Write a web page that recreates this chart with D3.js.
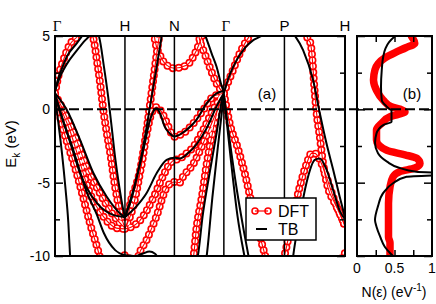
<!DOCTYPE html>
<html>
<head>
<meta charset="utf-8">
<title>Band structure and DOS</title>
<script src="https://d3js.org/d3.v7.min.js"></script>
<style>
  body { margin: 0; background: #fff; }
  text { font-family: "Liberation Sans", Arial, sans-serif; fill: #000; }
</style>
</head>
<body>
<script>
// high symmetry points of the bcc path (path length units)
let symLabels = ['Γ', 'H', 'N', 'Γ', 'P', 'H'];
let symK = [0, 1, 1.707, 2.414, 3.280, 4.146];

let energyTicks = [5, 0, -5, -10];
let energyMinor = [2.5, -2.5, -7.5];
let dosTicks = [0, 0.5, 1];
let dosMinor = [0.25, 0.5, 0.75];

// DFT bands as [k, E(eV)]
let dftBands = [
  [[0,1.1],[0.05,2.3],[0.12,3.35],[0.21,4.4],[0.33,5.0],[0.43,5.6],[0.5,5.3],[0.55,4.8],[0.6,3.3],[0.65,1.6],[0.69,0.0],[0.74,-1.6],[0.79,-3.0],[0.86,-5.3],[0.94,-7.2],[1.0,-8.1]],
  [[0,1.0],[0.024,0.5],[0.12,-1.4],[0.21,-2.8],[0.31,-4.36],[0.4,-5.96],[0.5,-7.77],[0.62,-9.7],[0.66,-10.4]],
  [[0,1.0],[0.07,0.18],[0.21,-1.41],[0.36,-3.68],[0.5,-5.73],[0.69,-7.3],[0.88,-8.1],[1.0,-8.15]],
  [[0,1.0],[0.12,-0.05],[0.31,-2.1],[0.45,-3.9],[0.64,-5.7],[0.83,-7.2],[1.0,-8.1]],
  [[1.0,-8.1],[1.03,-7.8],[1.07,-6.6],[1.17,-5.0],[1.24,-3.7],[1.31,-1.4],[1.36,0.4],[1.41,2.2],[1.46,4.0],[1.49,4.95],[1.52,5.8]],
  [[1.0,-8.1],[1.05,-7.6],[1.12,-6.6],[1.19,-5.0],[1.26,-3.0],[1.33,-1.2],[1.38,-0.25],[1.45,0.15],[1.52,-0.16],[1.6,-0.95],[1.66,-1.6],[1.707,-1.87],[1.76,-1.8],[1.83,-1.64],[1.98,-0.95],[2.12,-0.05],[2.26,0.86],[2.414,1.1]],
  [[1.0,-8.15],[1.1,-8.0],[1.21,-7.6],[1.4,-6.1],[1.54,-4.6],[1.63,-3.8],[1.707,-3.45],[1.78,-3.4],[1.83,-3.2],[1.98,-2.55],[2.12,-1.4],[2.26,-0.05],[2.414,1.1]],
  [[0.95,-10.3],[1.0,-9.95],[1.08,-10.3]],
  [[1.17,-10.4],[1.19,-10.05],[1.31,-8.9],[1.45,-7.3],[1.6,-5.3],[1.707,-4.95],[1.78,-5.0],[1.83,-4.6],[1.98,-3.7],[2.12,-2.3],[2.26,-0.73],[2.414,1.0]],
  [[1.41,5.6],[1.43,4.7],[1.5,3.7],[1.6,3.0],[1.707,2.8],[1.88,3.0],[2.02,4.0],[2.1,4.95],[2.14,5.5]],
  [[2.03,5.6],[2.07,4.7],[2.14,3.8],[2.21,2.9],[2.31,1.77],[2.414,1.05]],
  [[1.95,-10.6],[1.98,-10.05],[2.02,-8.2],[2.1,-5.96],[2.17,-3.68],[2.26,-1.41],[2.38,0.86],[2.414,1.0]],
  [[2.414,1.1],[2.47,1.8],[2.53,2.5],[2.64,3.8],[2.74,4.7],[2.79,5.06],[2.85,5.6]],
  [[2.414,1.1],[2.5,-1.0],[2.61,-2.6],[2.72,-4.5],[2.82,-6.6],[2.91,-8.3],[3.0,-9.9],[3.04,-10.6]],
  [[3.58,5.3],[3.62,4.75],[3.65,4.55],[3.68,3.4],[3.7,2.0],[3.74,-0.27],[3.786,-1.87],[3.833,-3.7],[3.9,-5.3],[4.0,-6.4],[4.1,-7.4],[4.146,-8.0]],
  [[3.25,-10.6],[3.31,-9.37],[3.4,-7.3],[3.5,-5.27],[3.6,-3.68],[3.667,-3.0],[3.714,-3.0],[3.786,-3.45],[3.88,-4.6],[3.976,-5.96],[4.07,-7.1],[4.146,-7.9]],
  [[4.05,-10.5],[4.146,-9.8]]
];

// tight-binding bands as [k, E(eV)]
let tbBands = [
  [[0,1.25],[0.07,2.2],[0.17,3.1],[0.31,4.0],[0.43,4.7],[0.5,5.05],[0.56,5.5],[0.63,4.95],[0.7,2.9],[0.76,0.86],[0.81,-1.2],[0.86,-3.3],[0.92,-5.3],[0.97,-6.7],[1.0,-7.35]],
  [[0,1.2],[0.04,2.0],[0.1,2.8],[0.17,3.6],[0.31,4.5],[0.38,4.95],[0.45,5.4]],
  [[0,0.9],[0.05,-1.0],[0.1,-3.0],[0.15,-5.4],[0.19,-7.7],[0.215,-9.9],[0.225,-10.6]],
  [[0,1.1],[0.17,-0.05],[0.36,-2.1],[0.55,-4.36],[0.74,-5.96],[0.93,-7.1],[1.0,-7.35]],
  [[0,1.0],[0.12,-0.8],[0.24,-2.6],[0.36,-4.36],[0.6,-6.4],[0.83,-7.2],[1.0,-7.35]],
  [[0,1.0],[0.1,-0.6],[0.25,-2.6],[0.45,-5.6],[0.6,-7.2],[0.7,-8.45],[0.86,-9.6],[1.0,-9.95]],
  [[1.0,-7.35],[1.12,-5.5],[1.214,-3.7],[1.31,-1.2],[1.404,1.5],[1.453,2.9],[1.524,4.95],[1.56,6.0]],
  [[1.0,-7.35],[1.1,-6.0],[1.2,-4.0],[1.29,-2.2],[1.333,-1.2],[1.404,-0.16],[1.453,0.07],[1.5,-0.27],[1.57,-1.2],[1.64,-1.64],[1.707,-1.85],[1.88,-1.4],[2.02,-0.73],[2.167,0.4],[2.31,1.09],[2.414,1.25]],
  [[1.0,-7.35],[1.167,-6.6],[1.31,-5.7],[1.453,-4.36],[1.596,-3.45],[1.707,-3.3],[1.78,-3.35],[1.9,-3.0],[2.02,-2.4],[2.167,-1.3],[2.31,0.2],[2.414,1.1]],
  [[1.0,-9.95],[1.15,-10.0],[1.25,-9.85],[1.35,-9.7],[1.43,-9.85],[1.5,-10.4]],
  [[2.1,5.5],[2.15,5.0],[2.24,3.8],[2.31,2.9],[2.37,1.8],[2.414,1.15]],
  [[1.99,-10.6],[2.04,-10.05],[2.11,-7.3],[2.21,-4.36],[2.31,-1.64],[2.4,0.86],[2.414,1.0]],
  [[2.15,-10.6],[2.167,-10.05],[2.25,-6.0],[2.33,-2.5],[2.39,0.0],[2.414,1.0]],
  [[2.414,1.1],[2.47,2.0],[2.547,2.9],[2.69,4.04],[2.83,4.7],[2.93,4.95],[3.0,5.2]],
  [[2.414,1.0],[2.47,-1.5],[2.52,-3.7],[2.61,-7.3],[2.71,-10.05],[2.74,-10.8]],
  [[2.414,1.0],[2.5,-2.2],[2.6,-5.5],[2.7,-8.3],[2.79,-10.6]],
  [[3.36,5.5],[3.404,5.2],[3.547,4.04],[3.69,2.0],[3.786,-0.27],[3.88,-2.3],[3.976,-4.1],[4.07,-5.96],[4.146,-7.35]],
  [[3.39,-10.6],[3.404,-10.05],[3.5,-7.3],[3.596,-5.0],[3.714,-3.45],[3.786,-3.35],[3.881,-4.1],[3.976,-5.5],[4.07,-6.9],[4.146,-7.5]]
];

// density of states
let dosEnergyDft = [4.95,4.5,4.2,3.9,3.5,3.1,2.7,2.0,1.3,0.63,0.18,0.0,-0.16,-0.35,-0.5,-0.95,-1.4,-2.1,-2.8,-3.1,-3.35,-3.7,-4.0,-4.25,-4.6,-5.3,-6.4,-7.55,-8.7,-9.1,-10.0];
let dosDft = [0.73,0.77,0.65,0.52,0.37,0.28,0.24,0.22,0.26,0.35,0.46,0.58,0.64,0.55,0.44,0.33,0.26,0.26,0.40,0.64,0.80,0.84,0.77,0.57,0.48,0.44,0.42,0.42,0.42,0.44,0.44];
let dosEnergyTb = [5.0,4.6,4.16,3.6,2.68,1.54,0.63,0.22,0.0,-0.05,-0.85,-1.07,-1.64,-2.3,-3.0,-3.57,-4.0,-4.25,-4.4,-4.6,-5.04,-5.7,-6.6,-7.55,-8.0,-8.7,-9.37,-9.8,-10.0];
let dosTb = [0.51,0.43,0.38,0.35,0.33,0.32,0.33,0.39,0.44,0.46,0.46,0.35,0.26,0.24,0.28,0.40,0.57,0.79,1.4,0.66,0.48,0.35,0.28,0.24,0.26,0.31,0.37,0.44,0.48];

let width = 436, height = 304;
let bandLeft = 55, bandRight = 345, plotTop = 36, plotBottom = 256;
let dosLeft = 357, dosRight = 432;

let svg = d3.select('body').append('svg')
  .attr('width', width)
  .attr('height', height);

let kScale = d3.scaleLinear().domain([0, symK[symK.length - 1]]).range([bandLeft, bandRight]);
let eScale = d3.scaleLinear().domain([-10, 5]).range([plotBottom, plotTop]);
let nScale = d3.scaleLinear().domain([0, 1]).range([dosLeft, dosRight]);

let defs = svg.append('defs');
defs.append('clipPath').attr('id', 'clipBand')
  .append('rect').attr('x', bandLeft).attr('y', plotTop)
  .attr('width', bandRight - bandLeft).attr('height', plotBottom - plotTop);
defs.append('clipPath').attr('id', 'clipDos')
  .append('rect').attr('x', dosLeft).attr('y', plotTop)
  .attr('width', dosRight - dosLeft).attr('height', plotBottom - plotTop);

let bandLine = d3.line()
  .x(d => kScale(d[0]))
  .y(d => eScale(d[1]))
  .curve(d3.curveMonotoneX);

let band = svg.append('g').attr('clip-path', 'url(#clipBand)');

// DFT: open circles drawn as round dots along each band, plus a thin line
let red = '#ff0000';
band.selectAll('path.dftDot').data(dftBands).enter().append('path')
  .attr('class', 'dftDot')
  .attr('d', bandLine)
  .attr('fill', 'none').attr('stroke', red)
  .attr('stroke-width', 8).attr('stroke-linecap', 'round')
  .attr('stroke-dasharray', '0 6');
band.selectAll('path.dftHole').data(dftBands).enter().append('path')
  .attr('class', 'dftHole')
  .attr('d', bandLine)
  .attr('fill', 'none').attr('stroke', '#fff')
  .attr('stroke-width', 4.8).attr('stroke-linecap', 'round')
  .attr('stroke-dasharray', '0 6');
band.selectAll('path.dftLine').data(dftBands).enter().append('path')
  .attr('class', 'dftLine')
  .attr('d', bandLine)
  .attr('fill', 'none').attr('stroke', red).attr('stroke-width', 1.1);

// symmetry lines
svg.selectAll('line.sym').data(symK.slice(1, -1)).enter().append('line')
  .attr('class', 'sym')
  .attr('x1', d => kScale(d)).attr('x2', d => kScale(d))
  .attr('y1', plotTop).attr('y2', plotBottom)
  .attr('stroke', '#000').attr('stroke-width', 1.5);

// TB bands
band.selectAll('path.tb').data(tbBands).enter().append('path')
  .attr('class', 'tb')
  .attr('d', bandLine)
  .attr('fill', 'none').attr('stroke', '#000').attr('stroke-width', 2);

// DOS panel
let dos = svg.append('g').attr('clip-path', 'url(#clipDos)');
let dosLine = d3.line()
  .x(d => nScale(d[0]))
  .y(d => eScale(d[1]))
  .curve(d3.curveMonotoneY);

let dftPts = dosDft.map((n, i) => [n, dosEnergyDft[i]]);
let tbPts = dosTb.map((n, i) => [n, dosEnergyTb[i]]);

dos.append('path').attr('d', dosLine(dftPts))
  .attr('fill', 'none').attr('stroke', red).attr('stroke-width', 7.5)
  .attr('stroke-linejoin', 'round').attr('stroke-linecap', 'round');
dos.append('path').attr('d', dosLine(tbPts))
  .attr('fill', 'none').attr('stroke', '#000').attr('stroke-width', 2);

// Fermi level
svg.append('line')
  .attr('x1', bandLeft).attr('x2', dosRight)
  .attr('y1', eScale(0)).attr('y2', eScale(0))
  .attr('stroke', '#000').attr('stroke-width', 2)
  .attr('stroke-dasharray', '10 4');

// frames
[[bandLeft, bandRight], [dosLeft, dosRight]].forEach(p => {
  svg.append('rect')
    .attr('x', p[0]).attr('y', plotTop)
    .attr('width', p[1] - p[0]).attr('height', plotBottom - plotTop)
    .attr('fill', 'none').attr('stroke', '#000').attr('stroke-width', 2);
});

// energy axes, ticks inside both panels
function energyTicksAt(x, dir) {
  let major = (dir === 'left' ? d3.axisLeft(eScale) : d3.axisRight(eScale))
    .tickValues(energyTicks).tickSize(-8).tickFormat(d => String(d));
  let minor = (dir === 'left' ? d3.axisLeft(eScale) : d3.axisRight(eScale))
    .tickValues(energyMinor).tickSize(-5).tickFormat('');
  let g1 = svg.append('g').attr('transform', `translate(${x},0)`).call(major);
  let g2 = svg.append('g').attr('transform', `translate(${x},0)`).call(minor);
  [g1, g2].forEach(g => {
    g.select('.domain').remove();
    g.selectAll('line').attr('stroke-width', 1.5);
  });
  return g1;
}
let leftAxis = energyTicksAt(bandLeft, 'left');
leftAxis.selectAll('text')
  .attr('x', -5)
  .style('font-size', '14px')
  .style('font-family', '"Liberation Sans", Arial, sans-serif');
energyTicksAt(bandRight, 'right').selectAll('text').remove();
energyTicksAt(dosLeft, 'left').selectAll('text').remove();
energyTicksAt(dosRight, 'right').selectAll('text').remove();

// DOS x ticks
let dosBottomAxis = d3.axisBottom(nScale).tickValues(dosMinor).tickSize(-6).tickFormat('');
let dosTopAxis = d3.axisTop(nScale).tickValues(dosMinor).tickSize(-6).tickFormat('');
svg.append('g').attr('transform', `translate(0,${plotBottom})`).call(dosBottomAxis)
  .call(g => g.select('.domain').remove()).selectAll('line').attr('stroke-width', 1.5);
svg.append('g').attr('transform', `translate(0,${plotTop})`).call(dosTopAxis)
  .call(g => g.select('.domain').remove()).selectAll('line').attr('stroke-width', 1.5);

svg.selectAll('text.dosTick').data(dosTicks).enter().append('text')
  .attr('class', 'dosTick')
  .attr('x', d => nScale(d)).attr('y', 273)
  .attr('text-anchor', 'middle').style('font-size', '14px')
  .text(d => String(d));

// symmetry labels on top
svg.selectAll('text.sym').data(symLabels).enter().append('text')
  .attr('class', 'sym')
  .attr('x', (d, i) => kScale(symK[i]) + (d === 'Γ' ? 2 : 0))
  .attr('y', 31)
  .attr('text-anchor', 'middle')
  .style('font-size', '15px')
  .style('font-family', d => d === 'Γ' ? '"Liberation Serif", serif' : '"Liberation Sans", Arial, sans-serif')
  .text(d => d);

// panel labels
svg.append('text').attr('x', 267).attr('y', 99).attr('text-anchor', 'middle')
  .style('font-size', '15px').text('(a)');
svg.append('text').attr('x', 412).attr('y', 99).attr('text-anchor', 'middle')
  .style('font-size', '15px').text('(b)');

// y title
let yTitle = svg.append('text')
  .attr('transform', 'translate(16,144) rotate(-90)')
  .attr('text-anchor', 'middle').style('font-size', '15px');
yTitle.append('tspan').text('E');
yTitle.append('tspan').attr('dy', 4).style('font-size', '10px').text('k');
yTitle.append('tspan').attr('dy', -4).text(' (eV)');

// x title of DOS
let xTitle = svg.append('text')
  .attr('x', 394).attr('y', 297)
  .attr('text-anchor', 'middle').style('font-size', '14px');
xTitle.append('tspan').text('N(ε) (eV');
xTitle.append('tspan').attr('dy', -6).style('font-size', '10px').text('-1');
xTitle.append('tspan').attr('dy', 6).text(')');

// legend
let legend = svg.append('g');
legend.append('rect').attr('x', 246).attr('y', 198).attr('width', 70).attr('height', 42)
  .attr('fill', '#fff').attr('stroke', '#000').attr('stroke-width', 1.5);
legend.append('line').attr('x1', 255).attr('x2', 268).attr('y1', 211).attr('y2', 211)
  .attr('stroke', red).attr('stroke-width', 1.2);
legend.selectAll('circle').data([255, 268]).enter().append('circle')
  .attr('cx', d => d).attr('cy', 211).attr('r', 3)
  .attr('fill', 'none').attr('stroke', red).attr('stroke-width', 1.5);
legend.append('line').attr('x1', 256).attr('x2', 267).attr('y1', 229).attr('y2', 229)
  .attr('stroke', '#000').attr('stroke-width', 2);
legend.append('text').attr('x', 278).attr('y', 217).style('font-size', '16px').text('DFT');
legend.append('text').attr('x', 278).attr('y', 235).style('font-size', '16px').text('TB');
</script>
</body>
</html>
